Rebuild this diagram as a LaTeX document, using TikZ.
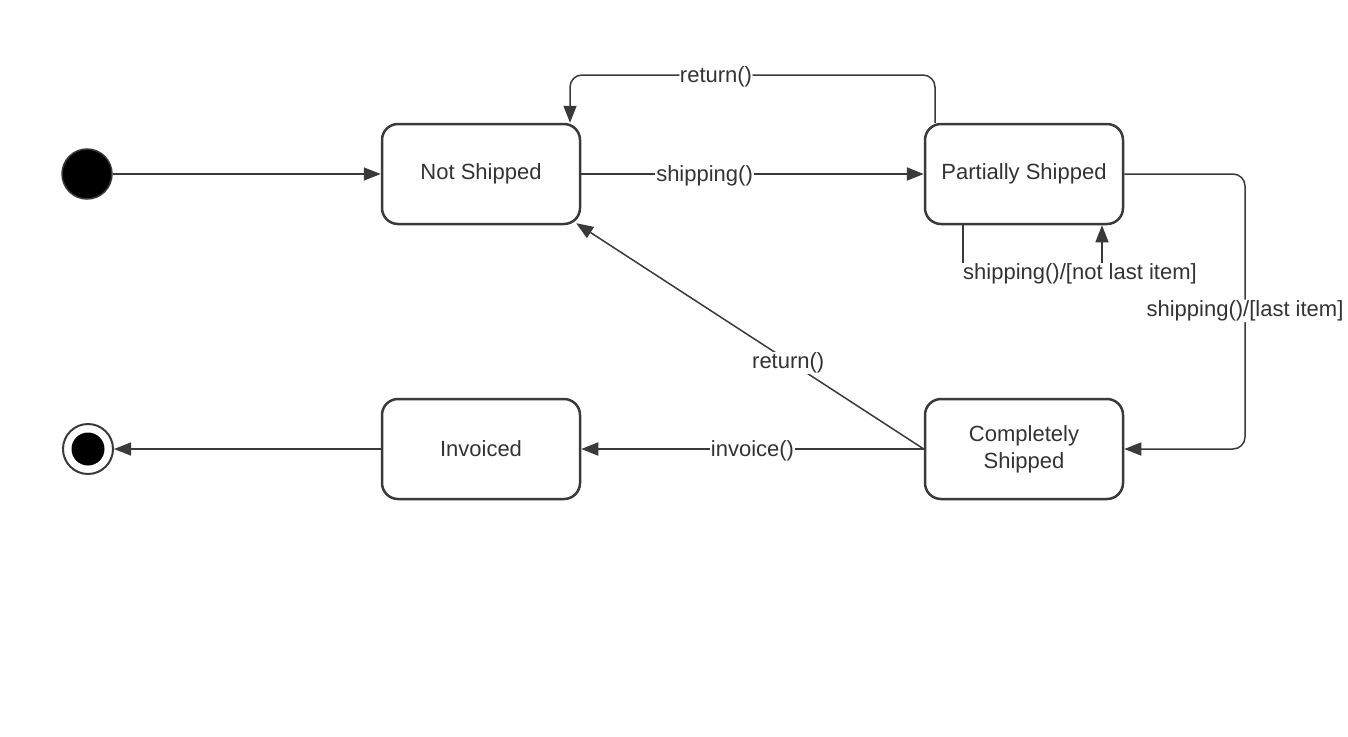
\documentclass[tikz,border=0pt]{standalone}
\usepackage{fontspec}
\setmainfont{Liberation Sans}
\usetikzlibrary{arrows.meta}
\definecolor{edge}{HTML}{3A3A3A}
\definecolor{txt}{HTML}{333333}
\begin{document}
\begin{tikzpicture}[x=1pt,y=-1pt,
  every node/.style={font=\fontsize{22}{27}\selectfont, text=txt},
  state/.style={draw=edge, line width=2.5pt, rounded corners=16pt, minimum width=198pt, minimum height=100pt, align=center, inner sep=0pt},
  conn/.style={draw=edge, line width=1.5pt, -{Triangle[length=17pt,width=13pt]}},
  thick conn/.style={conn, line width=2.2pt},
  lbl/.style={fill=white, inner sep=1pt, yshift=-2pt}]
\useasboundingbox[fill=white] (0,0) rectangle (1348,736);

\node[state] (ns) at (481,174) {Not Shipped};
\node[state] (ps) at (1024,174) {Partially Shipped};
\node[state] (inv) at (481,449) {Invoiced};
\node[state] (cs) at (1024,449) {Completely\\Shipped};

\node[circle, fill=black, draw=edge, line width=1.5pt, minimum size=50pt, inner sep=0pt] (init) at (87,174) {};
\node[circle, draw=edge, line width=2pt, minimum size=50pt, inner sep=0pt] (fin) at (88,449) {};
\node[circle, fill=black, minimum size=33pt, inner sep=0pt] (finin) at (fin) {};

\coordinate (r1) at (935,75);
\coordinate (r2) at (570,75);
\coordinate (sl1) at (963,272);
\coordinate (sl2) at (1102,272);
\coordinate (li1) at (1245,174);
\coordinate (li2) at (1245,449);

% initial
\draw[conn] (init.east) -- (ns.west);
% shipping
\draw[thick conn] (ns.east) -- node[lbl, pos=0.36] (lship) {shipping()} (ps.west);
% return (top)
\draw[conn, rounded corners=12pt] (ps.north west -| r1) -- (r1) -- node[lbl, pos=0.6] (lret1) {return()} (r2) -- (ns.north west -| r2);
% self loop
\draw[conn] (ps.south west -| sl1) -- (sl1) -- (sl2) -- (ps.south west -| sl2);
\node[lbl] (lself) at (1080,272) {shipping()/[not last item]};
% last item
\draw[conn, rounded corners=12pt] (ps.east) -- (li1) -- node[lbl, pos=0.49] (llast) {shipping()/[last item]} (li2) -- (cs.east);
% return diagonal
\draw[conn] (cs.west) -- node[lbl, pos=0.39] (lret2) {return()} ([shift={(-5,-2)}]ns.south east);
% invoice
\draw[thick conn] (cs.west) -- node[lbl] (linv) {invoice()} (inv.east);
% final
\draw[conn] (inv.west) -- (fin.east);
\end{tikzpicture}
\end{document}
